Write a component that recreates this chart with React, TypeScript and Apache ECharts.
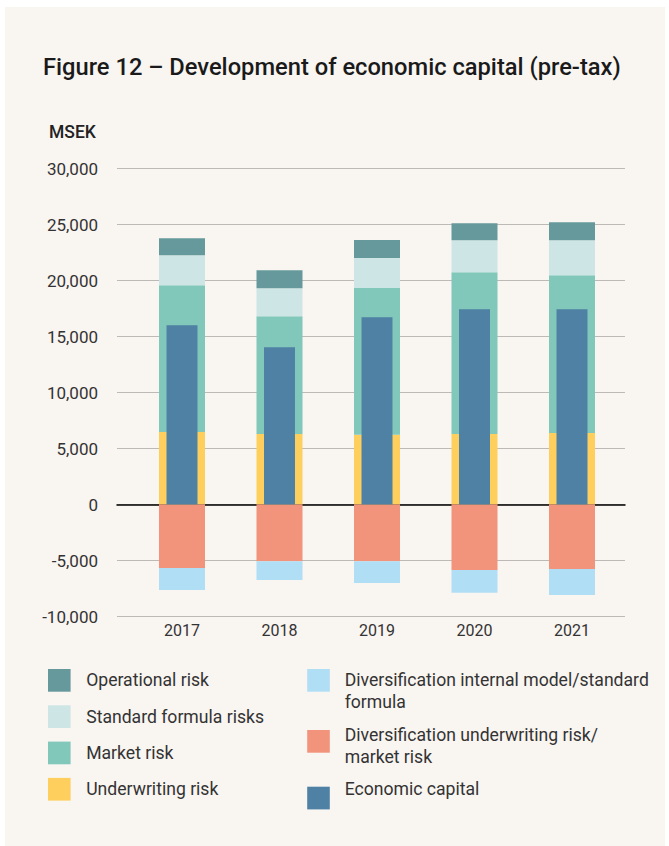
import React, { useEffect, useRef } from "react";
import * as echarts from "echarts";

const years = ["2017", "2018", "2019", "2020", "2021"];
const underwritingRisk = [6480, 6300, 6220, 6300, 6390];
const marketRisk = [13100, 10510, 13100, 14440, 14080];
const standardFormulaRisks = [2680, 2500, 2680, 2860, 3130];
const operationalRisk = [1520, 1610, 1610, 1520, 1610];
const divUnderwritingMarket = [-5660, -5060, -5060, -5840, -5750];
const divInternalStandard = [-1970, -1670, -1940, -2050, -2320];
const economicCapital = [16010, 14050, 16720, 17440, 17440];
const yTicks = { min: -10000, max: 30000, interval: 5000 };

const C = {
  op: "#66999c",
  std: "#cde6e5",
  mkt: "#81c8bb",
  uw: "#fecf5d",
  divInt: "#b0def5",
  divUw: "#f2937b",
  ec: "#4f81a5",
  bg: "#f9f5f1",
  text: "#333333",
};

const FONT = "Roboto, 'Noto Sans', sans-serif";
const LEG_FS = 17.6;

export default function App() {
  const ref = useRef<HTMLDivElement>(null);
  useEffect(() => {
    document.body.style.margin = "0";
    const chart = echarts.init(ref.current!, null, { renderer: "svg" });
    const GT = 168.5;
    const GH = 448;
    const stackBar = (name: string, data: number[], color: string) => ({
      name,
      type: "bar",
      stack: "total",
      xAxisIndex: 1,
      yAxisIndex: 1,
      data,
      barWidth: 46,
      itemStyle: { color },
      z: 3,
    });
    const legendBase = {
      padding: 0,
      icon: "rect",
      itemWidth: 22.6,
      itemHeight: 22.7,
      selectedMode: false,
      orient: "vertical",
    };
    const iconOnly = (name: string, top: number) => ({
      ...legendBase,
      left: 307.2,
      top,
      data: [name],
      formatter: () => "",
      textStyle: { fontSize: 1 },
    });
    const legText = (text: string, top: number) => ({
      type: "text",
      x: 344.7,
      y: top,
      silent: true,
      style: {
        text,
        fontSize: LEG_FS,
        lineHeight: 22,
        fontFamily: FONT,
        fill: C.text,
        verticalAlign: "top",
        align: "left",
      },
    });
    const option: any = {
      animation: false,
      backgroundColor: "#ffffff",
      textStyle: { fontFamily: FONT },
      graphic: [
        {
          type: "rect",
          z: -10,
          silent: true,
          shape: { x: 5, y: 7, width: 660, height: 839 },
          style: { fill: C.bg },
        },
        legText("Diversification internal model/standard\nformula", 669.3),
        legText("Diversification underwriting risk/\nmarket risk", 724.3),
        legText("Economic capital", 778),
      ],
      title: [
        {
          text: "Figure 12 – Development of economic capital (pre-tax)",
          left: 43,
          top: 55,
          padding: 0,
          textStyle: { fontSize: 23.7, fontWeight: 500, color: "#1a1a1a", fontFamily: FONT },
        },
        {
          text: "MSEK",
          left: 49,
          top: 123,
          padding: 0,
          textStyle: { fontSize: 17.5, fontWeight: 500, color: "#222222", fontFamily: FONT },
        },
      ],
      legend: [
        {
          ...legendBase,
          left: 48,
          top: 669,
          itemGap: 13.6,
          data: ["Operational risk", "Standard formula risks", "Market risk", "Underwriting risk"],
          textStyle: { fontSize: LEG_FS, color: C.text, padding: [0, 0, 0, 10.6], fontFamily: FONT },
        },
        iconOnly("Diversification internal model/standard formula", 669),
        iconOnly("Diversification underwriting risk/market risk", 730),
        iconOnly("Economic capital", 786.7),
      ],
      grid: [
        { left: 117, right: 44, top: GT, height: GH },
        { left: 133.25, width: 487.5, top: GT, height: GH },
      ],
      xAxis: [
        {
          type: "category",
          gridIndex: 0,
          data: years,
          axisLine: { show: true, onZero: true, lineStyle: { color: "#000000", width: 1.5 } },
          axisTick: { show: false },
          axisLabel: { show: false },
          splitLine: { show: false },
        },
        {
          type: "category",
          gridIndex: 1,
          data: years,
          axisLine: { show: false, onZero: false },
          axisTick: { show: false },
          axisLabel: { fontSize: 16, color: C.text, margin: 6, fontFamily: FONT },
        },
        {
          type: "category",
          gridIndex: 1,
          data: years,
          show: false,
        },
      ],
      yAxis: [
        {
          type: "value",
          gridIndex: 0,
          min: yTicks.min,
          max: yTicks.max,
          interval: yTicks.interval,
          axisLine: { show: false },
          axisTick: { show: false },
          axisLabel: {
            fontSize: 17,
            color: C.text,
            margin: 19,
            fontFamily: FONT,
            formatter: (v: number) => v.toLocaleString("en-US"),
          },
          splitLine: { lineStyle: { color: "#bcb9b6", width: 1.2 } },
        },
        {
          type: "value",
          gridIndex: 1,
          min: yTicks.min,
          max: yTicks.max,
          interval: yTicks.interval,
          show: false,
          splitLine: { show: false },
        },
      ],
      series: [
        stackBar("Underwriting risk", underwritingRisk, C.uw),
        stackBar("Market risk", marketRisk, C.mkt),
        stackBar("Standard formula risks", standardFormulaRisks, C.std),
        stackBar("Operational risk", operationalRisk, C.op),
        stackBar("Diversification underwriting risk/market risk", divUnderwritingMarket, C.divUw),
        stackBar("Diversification internal model/standard formula", divInternalStandard, C.divInt),
        {
          name: "Economic capital",
          type: "bar",
          xAxisIndex: 2,
          yAxisIndex: 1,
          data: economicCapital,
          barWidth: 31,
          itemStyle: { color: C.ec },
          z: 4,
        },
      ],
    };
    chart.setOption(option);
    return () => chart.dispose();
  }, []);
  return <div ref={ref} style={{ width: 669, height: 846 }} />;
}
